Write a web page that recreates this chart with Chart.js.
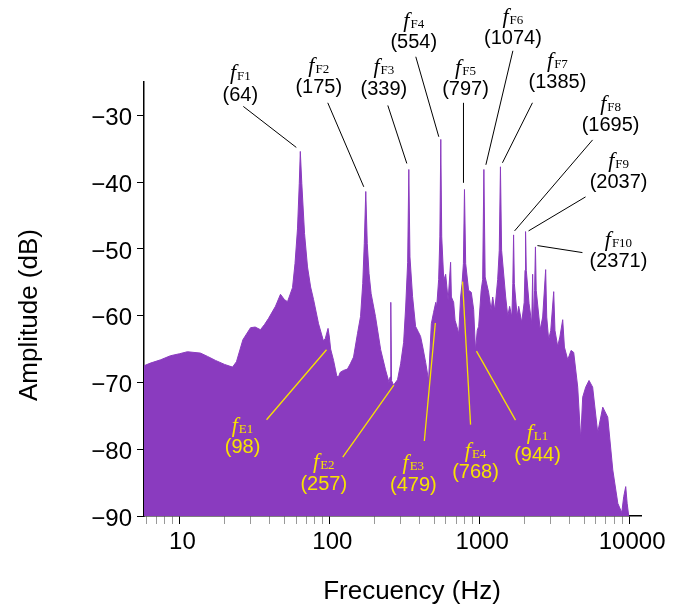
<!DOCTYPE html>
<html>
<head>
<meta charset="utf-8">
<script src="https://cdn.jsdelivr.net/npm/chart.js@4.4.1/dist/chart.umd.min.js"></script>
<style>
    body { margin: 0; background: #fff; }
    #wrap { width: 674px; height: 610px; }
</style>
</head>
<body>
<div id="wrap"><canvas id="spectrumChart" width="674" height="610"></canvas></div>
<script>
// Spectrum envelope (Hz, dB)
const freqHz = [
    5.8, 6.4, 7.5, 8.7, 10, 11.3, 13.8, 15.4, 17.4, 20, 22.6, 24, 26.5, 29.8, 32, 34.7, 37, 39.3, 43.7, 47.2,
    50.2, 52.6, 56.8, 59, 61.3, 63, 64, 65.5, 68.3, 71.5, 75, 78.5, 84.7, 91.4, 94, 98, 100, 102, 106.7, 112,
    115, 118, 124, 132, 138, 145, 154, 161.5, 167, 171, 175, 179, 184, 190, 203, 220, 237, 250, 254, 257,
    260, 268, 285, 299, 313, 323, 333, 339, 345, 359, 376, 392, 406, 420, 439, 459, 479, 496, 513, 520,
    536, 546, 554, 562, 580, 597, 620, 644, 652, 675, 690, 709, 730, 751, 768, 784, 797, 812, 849, 885,
    918, 944, 970, 991, 1030, 1054, 1074, 1095, 1155, 1200, 1230, 1270, 1327, 1360, 1385, 1410, 1501, 1550, 1595, 1650,
    1675, 1695, 1715, 1790, 1833, 1920, 1995, 2020, 2037, 2060, 2150, 2240, 2271, 2300, 2340, 2371, 2400, 2550, 2650, 2774,
    2820, 2905, 3000, 3139, 3200, 3337, 3450, 3605, 3700, 3894, 4100, 4268, 4539, 4753, 4900, 5131, 5400, 5709, 6170, 6668,
    7200, 7780, 8404, 8928, 9200, 9491, 9700, 9940
];
const ampDb = [
    -67.5, -67.1, -66.6, -66.0, -65.7, -65.4, -65.6, -66.1, -66.7, -67.3, -67.7, -66.9, -63.6, -61.8, -61.7, -62.1, -61.3, -60.4, -58.6, -56.8,
    -57.6, -57.9, -55.8, -52.2, -47.0, -40.2, -35.4, -40.2, -47.7, -52.7, -55.7, -57.6, -61.2, -63.8, -63.4, -61.9, -63.2, -65.0, -66.7, -69.0,
    -69.2, -68.5, -68.2, -68.0, -67.2, -66.2, -62.7, -60.1, -55.2, -49.2, -41.4, -49.2, -53.7, -56.7, -60.1, -65.1, -68.1, -70.0, -69.2, -58.0,
    -69.7, -70.4, -69.6, -67.2, -64.0, -58.7, -52.0, -38.1, -51.2, -57.1, -61.6, -62.4, -63.1, -64.7, -67.0, -69.7, -61.2, -59.5, -58.0, -58.7,
    -54.6, -48.2, -33.6, -48.2, -54.7, -53.8, -57.7, -52.0, -57.2, -58.0, -60.7, -61.6, -62.7, -57.2, -55.2, -52.2, -41.1, -52.2, -56.2, -56.5,
    -59.1, -65.2, -62.2, -61.6, -56.2, -54.6, -38.1, -54.2, -56.5, -59.2, -57.2, -59.2, -54.6, -50.2, -37.7, -50.2, -57.2, -60.1, -58.6, -60.2,
    -55.2, -47.9, -55.2, -60.1, -58.6, -61.0, -58.0, -53.2, -47.4, -53.2, -58.2, -61.2, -53.8, -61.2, -56.2, -49.7, -56.2, -62.1, -60.2, -53.1,
    -60.2, -63.6, -62.2, -56.4, -62.2, -64.6, -63.2, -60.6, -64.7, -66.6, -65.2, -65.5, -70.7, -78.5, -72.2, -70.7, -69.7, -70.7, -77.5, -73.7,
    -75.2, -83.1, -88.1, -89.5, -87.1, -85.6, -88.1, -90.0
];

// Axis ticks
const decadeTicks = [10, 100, 1000, 10000];
const yTickValues = [-90, -80, -70, -60, -50, -40, -30];

// Labelled formants (black) and other features (yellow)
const peakNames = ['F1', 'F2', 'F3', 'F4', 'F5', 'F6', 'F7', 'F8', 'F9', 'F10'];
const peakFreqs = [64, 175, 339, 554, 797, 1074, 1385, 1695, 2037, 2371];
const peakLevels = [-34.8, -40.7, -37.2, -33.2, -40.1, -37.4, -37.1, -47.3, -47.3, -49.5];
const eventNames = ['E1', 'E2', 'E3', 'E4', 'L1'];
const eventFreqs = [98, 257, 479, 768, 944];
const eventLevels = [-65.1, -70.4, -61.1, -54.9, -65.3];

// callout layout: ex = nudge of the leader end, s = leader start, l = label centre (px, relative to leader end)
const peakLayout = [
    { ex: -4, sx: -53, sy: -41, lx: -56, ly: -52 },
    { ex: -2, sx: -36, sy: -84, lx: -45, ly: -99 },
    { ex: -2, sx: -19, sy: -58, lx: -23, ly: -74 },
    { ex: -2, sx: -23, sy: -80, lx: -25, ly: -94 },
    { ex: -1, sx: 0, sy: -80, lx: 2, ly: -93 },
    { ex: 2, sx: 27, sy: -114, lx: 27, ly: -126 },
    { ex: 2, sx: 30, sy: -60, lx: 55, ly: -80 },
    { ex: 1, sx: 78, sy: -91, lx: 96, ly: -105 },
    { ex: 3, sx: 57, sy: -34, lx: 90, ly: -48 },
    { ex: 2, sx: 45, sy: 7, lx: 81, ly: 16 }
];
const eventLayout = [
    { ex: -1.5, sx: -60, sy: 70, lx: -84, ly: 98 },
    { ex: 3, sx: -51, sy: 72, lx: -70, ly: 99 },
    { ex: 4, sx: -11, sy: 118, lx: -22, ly: 162 },
    { ex: 0.5, sx: 8, sy: 143, lx: 13, ly: 191 },
    { ex: 1, sx: 39, sy: 69, lx: 61, ly: 104 }
];

const PURPLE = '#8a3bbf';
const YELLOW = '#f8e300';
const SANS = '"Liberation Sans", Arial, sans-serif';
const SERIF = '"Liberation Serif", "Times New Roman", serif';

const xTickValues = [];
[1, 10, 100, 1000].forEach(d => {
    for (let m = 1; m <= 9; m++) {
        const v = m * d;
        if (v >= 6 && v <= 10000) xTickValues.push(v);
    }
});
xTickValues.push(10000);

function drawCallout(ctx, ax, ay, lay, sub, num, color, lineWidth) {
    ctx.save();
    ctx.strokeStyle = color;
    ctx.lineWidth = lineWidth;
    ctx.beginPath();
    ctx.moveTo(ax + lay.sx, ay + lay.sy);
    ctx.lineTo(ax, ay);
    ctx.stroke();

    const cx = ax + lay.lx;
    const cy = ay + lay.ly;
    ctx.fillStyle = color;
    ctx.font = '20px ' + SANS;
    ctx.textAlign = 'center';
    ctx.textBaseline = 'middle';
    ctx.fillText(num, cx, cy);

    ctx.font = 'italic 22px ' + SERIF;
    const wf = ctx.measureText('f').width;
    ctx.font = '13px ' + SERIF;
    const ws = ctx.measureText(sub).width;
    const x0 = cx - (wf + ws + 1) / 2;
    ctx.textAlign = 'left';
    ctx.textBaseline = 'alphabetic';
    ctx.font = 'italic 22px ' + SERIF;
    ctx.fillText('f', x0, cy - 16);
    ctx.font = '13px ' + SERIF;
    ctx.fillText(sub, x0 + wf + 1, cy - 15);
    ctx.restore();
}

const calloutPlugin = {
    id: 'callouts',
    afterDatasetsDraw(chart) {
        const { ctx, scales: { x, y } } = chart;
        peakNames.forEach((name, i) => {
            const lay = peakLayout[i];
            const ax = x.getPixelForValue(peakFreqs[i]) + lay.ex;
            const ay = y.getPixelForValue(peakLevels[i]);
            drawCallout(ctx, ax, ay, lay, name, '(' + peakFreqs[i] + ')', '#000', 1);
        });
        eventNames.forEach((name, i) => {
            const lay = eventLayout[i];
            const ax = x.getPixelForValue(eventFreqs[i]) + lay.ex;
            const ay = y.getPixelForValue(eventLevels[i]);
            drawCallout(ctx, ax, ay, lay, name, '(' + eventFreqs[i] + ')', YELLOW, 1.3);
        });
    },
    afterDraw(chart) {
        const { ctx } = chart;
        ctx.save();
        ctx.fillStyle = '#000';
        ctx.font = '26px ' + SANS;
        ctx.textAlign = 'center';
        ctx.textBaseline = 'middle';
        ctx.fillText('Frecuency (Hz)', 412, 592);
        ctx.translate(30, 315);
        ctx.rotate(-Math.PI / 2);
        ctx.fillText('Amplitude (dB)', 0, 0);
        ctx.restore();
    }
};

Chart.defaults.font.family = SANS;
Chart.defaults.color = '#000';

new Chart(document.getElementById('spectrumChart'), {
    type: 'line',
    data: {
        datasets: [{
            data: freqHz.map((f, i) => ({ x: f, y: ampDb[i] })),
            borderColor: PURPLE,
            backgroundColor: PURPLE,
            borderWidth: 1,
            pointRadius: 0,
            tension: 0,
            fill: 'start'
        }]
    },
    options: {
        responsive: false,
        animation: false,
        layout: { padding: { top: 82, right: 33, left: 0, bottom: 0 } },
        scales: {
            x: {
                type: 'logarithmic',
                min: 5.8,
                max: 12000,
                afterBuildTicks: (scale) => {
                    scale.ticks = xTickValues.map(v => ({ value: v }));
                },
                afterFit: (scale) => { scale.height = 94; },
                ticks: {
                    autoSkip: false,
                    maxRotation: 0,
                    padding: 4,
                    labelOffset: 3,
                    font: { size: 24 },
                    callback: (v) => decadeTicks.includes(v) ? String(v) : ''
                },
                grid: {
                    drawOnChartArea: false,
                    tickLength: 8,
                    tickColor: (c) => (c.tick && decadeTicks.includes(c.tick.value)) ? '#000' : '#999'
                },
                border: { color: '#000', width: 1.5 }
            },
            y: {
                min: -90,
                max: -25,
                afterBuildTicks: (scale) => {
                    scale.ticks = yTickValues.map(v => ({ value: v }));
                },
                afterFit: (scale) => { scale.width = 144; },
                ticks: {
                    padding: 5,
                    labelOffset: 3,
                    font: { size: 24 },
                    callback: (v) => v < 0 ? '\u2212' + Math.abs(v) : String(v)
                },
                grid: { drawOnChartArea: false, tickLength: 7, tickColor: '#000' },
                border: { color: '#000', width: 1.5 }
            }
        },
        plugins: {
            legend: { display: false },
            tooltip: { enabled: false },
            title: { display: false }
        }
    },
    plugins: [calloutPlugin]
});
</script>
</body>
</html>
